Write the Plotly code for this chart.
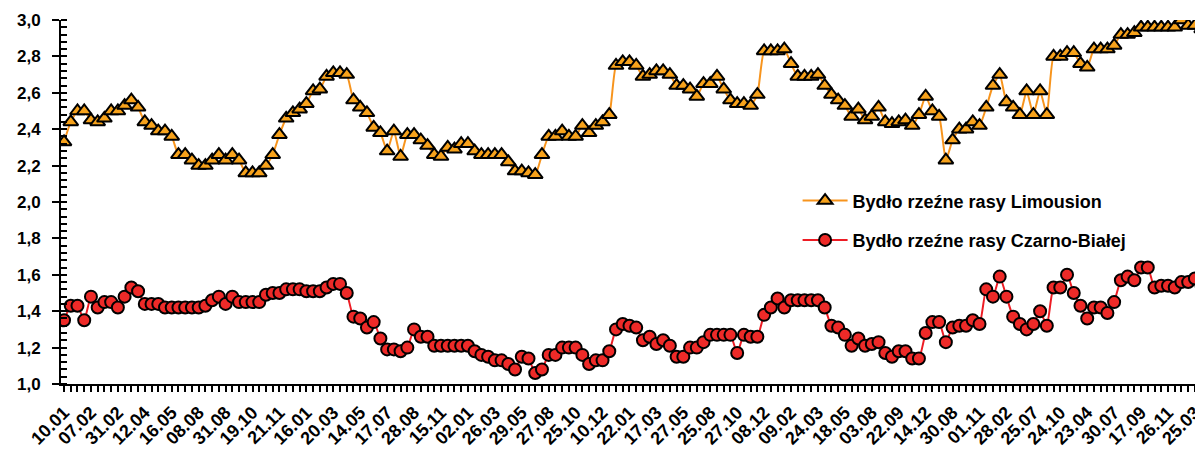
import plotly.graph_objects as go

# tick labels (one every 4th observation)
tick_labels = ["10.01", "07.02", "31.02", "12.04", "16.05", "08.08", "31.08", "19.10",
               "21.11", "16.01", "20.03", "14.05", "17.07", "28.08", "15.11", "02.01",
               "26.03", "29.05", "27.08", "25.10", "10.12", "22.01", "17.03", "27.05",
               "25.08", "27.10", "08.12", "09.02", "24.03", "18.05", "03.08", "22.09",
               "14.12", "30.08", "01.11", "28.02", "25.07", "24.10", "23.04", "30.07",
               "17.09", "26.11", "25.03"]

limousin = [2.33, 2.44, 2.50, 2.50, 2.45, 2.44, 2.46, 2.50, 2.50, 2.53,
            2.56, 2.52, 2.44, 2.42, 2.39, 2.39, 2.36, 2.26, 2.26, 2.23,
            2.20, 2.20, 2.23, 2.26, 2.23, 2.26, 2.23, 2.16, 2.16, 2.16,
            2.20, 2.26, 2.37, 2.46, 2.49, 2.51, 2.54, 2.61, 2.62, 2.69,
            2.71, 2.71, 2.70, 2.56, 2.52, 2.49, 2.41, 2.38, 2.28, 2.39,
            2.25, 2.37, 2.37, 2.34, 2.31, 2.26, 2.25, 2.30, 2.29, 2.32,
            2.32, 2.28, 2.26, 2.26, 2.26, 2.26, 2.22, 2.17, 2.17, 2.16,
            2.15, 2.26, 2.36, 2.36, 2.39, 2.36, 2.36, 2.42, 2.38, 2.42,
            2.44, 2.48, 2.75, 2.77, 2.77, 2.75, 2.69, 2.70, 2.72, 2.72,
            2.70, 2.64, 2.64, 2.62, 2.58, 2.65, 2.65, 2.69, 2.62, 2.56,
            2.54, 2.54, 2.53, 2.59, 2.83, 2.83, 2.83, 2.84, 2.76, 2.69,
            2.69, 2.69, 2.70, 2.64, 2.59, 2.56, 2.53, 2.47, 2.51, 2.45,
            2.47, 2.52, 2.44, 2.43, 2.44, 2.45, 2.42, 2.48, 2.58, 2.50,
            2.47, 2.23, 2.34, 2.40, 2.40, 2.44, 2.42, 2.52, 2.64, 2.70,
            2.55, 2.52, 2.48, 2.61, 2.48, 2.61, 2.48, 2.80, 2.80, 2.82,
            2.82, 2.76, 2.74, 2.84, 2.84, 2.84, 2.86, 2.92, 2.92, 2.93,
            2.96, 2.96, 2.96, 2.96, 2.96, 2.96, 3.00, 2.97, 2.97, 2.95]

czarno_biala = [1.35, 1.43, 1.43, 1.35, 1.48, 1.42, 1.45, 1.45, 1.42, 1.48,
                1.53, 1.51, 1.44, 1.44, 1.44, 1.42, 1.42, 1.42, 1.42, 1.42,
                1.42, 1.43, 1.46, 1.48, 1.44, 1.48, 1.45, 1.45, 1.45, 1.45,
                1.49, 1.50, 1.50, 1.52, 1.52, 1.52, 1.51, 1.51, 1.51, 1.53,
                1.55, 1.55, 1.50, 1.37, 1.36, 1.31, 1.34, 1.25, 1.19, 1.19,
                1.18, 1.20, 1.30, 1.26, 1.26, 1.21, 1.21, 1.21, 1.21, 1.21,
                1.21, 1.18, 1.16, 1.15, 1.13, 1.13, 1.11, 1.08, 1.15, 1.14,
                1.06, 1.08, 1.16, 1.16, 1.20, 1.20, 1.20, 1.16, 1.11, 1.13,
                1.13, 1.18, 1.30, 1.33, 1.32, 1.31, 1.24, 1.26, 1.22, 1.24,
                1.21, 1.15, 1.15, 1.20, 1.20, 1.23, 1.27, 1.27, 1.27, 1.27,
                1.17, 1.27, 1.26, 1.26, 1.38, 1.42, 1.47, 1.42, 1.46, 1.46,
                1.46, 1.46, 1.46, 1.42, 1.32, 1.31, 1.27, 1.21, 1.25, 1.21,
                1.22, 1.23, 1.17, 1.15, 1.18, 1.18, 1.14, 1.14, 1.28, 1.34,
                1.34, 1.23, 1.31, 1.32, 1.32, 1.35, 1.33, 1.52, 1.48, 1.59,
                1.48, 1.37, 1.33, 1.30, 1.33, 1.40, 1.32, 1.53, 1.53, 1.60,
                1.50, 1.43, 1.36, 1.42, 1.42, 1.39, 1.45, 1.57, 1.59, 1.57,
                1.64, 1.64, 1.53, 1.54, 1.54, 1.53, 1.56, 1.56, 1.58, 1.54]

x = list(range(len(limousin)))
tick_pos = list(range(0, 4 * len(tick_labels), 4))

FONT = "Liberation Sans, Arial, sans-serif"

fig = go.Figure()
fig.add_trace(go.Scatter(
    x=x, y=limousin, mode="lines+markers", name="Bydło rzeźne rasy Limousion",
    line=dict(color="#F7941D", width=2, shape="spline", smoothing=0.5),
    marker=dict(symbol="triangle-up", size=13, color="#F7A21B",
                line=dict(color="black", width=2)),
    legend="legend",
))
fig.add_trace(go.Scatter(
    x=x, y=czarno_biala, mode="lines+markers", name="Bydło rzeźne rasy Czarno-Białej",
    line=dict(color="#ED1C24", width=2, shape="spline", smoothing=0.5),
    marker=dict(symbol="circle", size=12, color="#EE2A28",
                line=dict(color="black", width=2)),
    legend="legend2",
))

legend_style = dict(font=dict(family=FONT, size=18, color="black", weight="bold"),
                    bgcolor="rgba(0,0,0,0)", borderwidth=0, itemwidth=45,
                    xanchor="left", yanchor="middle", x=0.645)

# the page adds an 8 px body margin, so the margins below are trimmed by 8 px
fig.update_layout(
    width=1203, height=450,
    margin=dict(l=53, r=8, t=12, b=74),
    paper_bgcolor="white", plot_bgcolor="white",
    separators=", ",
    showlegend=True,
    legend=dict(y=0.503, **legend_style),
    legend2=dict(y=0.395, **legend_style),
    xaxis=dict(
        range=[-0.45, 169.2], showgrid=False, zeroline=False, automargin=False,
        showline=True, linecolor="black", linewidth=2,
        tickmode="array", tickvals=tick_pos, ticktext=tick_labels,
        tickangle=-45, ticks="outside", ticklen=6, tickwidth=2, tickcolor="black",
        ticklabelstandoff=3,
        minor=dict(dtick=1, tick0=0, ticks="outside", ticklen=6, tickwidth=2,
                   tickcolor="black", showgrid=False),
        tickfont=dict(family=FONT, size=18, color="black", weight="bold"),
    ),
    yaxis=dict(
        range=[1.0, 3.0], dtick=0.2, tickformat=".1f", showgrid=False, zeroline=False,
        automargin=False,
        showline=True, linecolor="black", linewidth=2,
        ticks="outside", ticklen=7, tickwidth=2, tickcolor="black",
        ticklabelstandoff=8,
        minor=dict(dtick=0.04, ticks="inside", ticklen=6, tickwidth=2,
                   tickcolor="black", showgrid=False),
        tickfont=dict(family=FONT, size=17, color="black", weight="bold"),
    ),
)

fig.write_html("out.html")
